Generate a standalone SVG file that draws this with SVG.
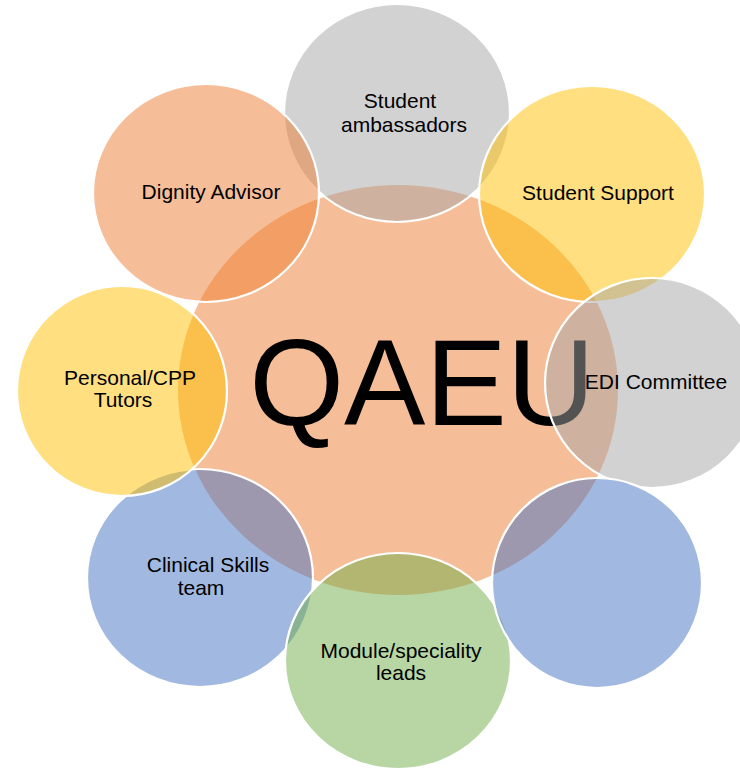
<svg xmlns="http://www.w3.org/2000/svg" width="740" height="769" viewBox="0 0 740 769">
<style>
.c{stroke:#ffffff;stroke-width:2.2;fill-opacity:0.5}
.gray{fill:#a5a5a5}.gold{fill:#ffc000}.orange{fill:#ed7d31}.blue{fill:#4472c4}.green{fill:#70ad47}
.t{font-family:"Liberation Sans",Arial,sans-serif;font-size:21px;fill:#000;text-anchor:middle}
.big{font-family:"Liberation Sans",Arial,sans-serif;font-size:122px;fill:#000;text-anchor:middle}
</style>
<rect width="740" height="769" fill="#ffffff"/>
<g id="center">
<ellipse cx="398" cy="390" rx="220" ry="205" fill="#ed7d31" fill-opacity="0.5"/>
<text class="big" x="422" y="425">QAEU</text>
</g>
<g id="student-ambassadors">
<ellipse class="c gray" cx="397" cy="113" rx="113" ry="109"/>
<text class="t" x="400" y="108">Student</text>
<text class="t" x="404" y="132">ambassadors</text>
</g>
<g id="student-support">
<ellipse class="c gold" cx="592" cy="194" rx="113" ry="108"/>
<text class="t" x="598" y="200">Student Support</text>
</g>
<g id="edi-committee">
<ellipse class="c gray" cx="652" cy="383" rx="107" ry="105"/>
<text class="t" x="656" y="389">EDI Committee</text>
</g>
<g id="clinical-skills">
<ellipse class="c blue" cx="200" cy="578" rx="113" ry="109"/>
<text class="t" x="208" y="572">Clinical Skills</text>
<text class="t" x="201" y="595">team</text>
</g>
<g id="module-leads">
<ellipse class="c green" cx="398" cy="661" rx="113" ry="108"/>
<text class="t" x="401" y="658">Module/speciality</text>
<text class="t" x="401" y="680">leads</text>
</g>
<g id="blue-right">
<ellipse class="c blue" cx="597" cy="583" rx="105" ry="105"/>
</g>
<g id="personal-tutors">
<ellipse class="c gold" cx="122" cy="391" rx="105" ry="105"/>
<text class="t" x="130" y="385">Personal/CPP</text>
<text class="t" x="123" y="407">Tutors</text>
</g>
<g id="dignity-advisor">
<ellipse class="c orange" cx="206" cy="193" rx="113" ry="109"/>
<text class="t" x="211" y="199">Dignity Advisor</text>
</g>
<g id="connectors"></g>
</svg>
